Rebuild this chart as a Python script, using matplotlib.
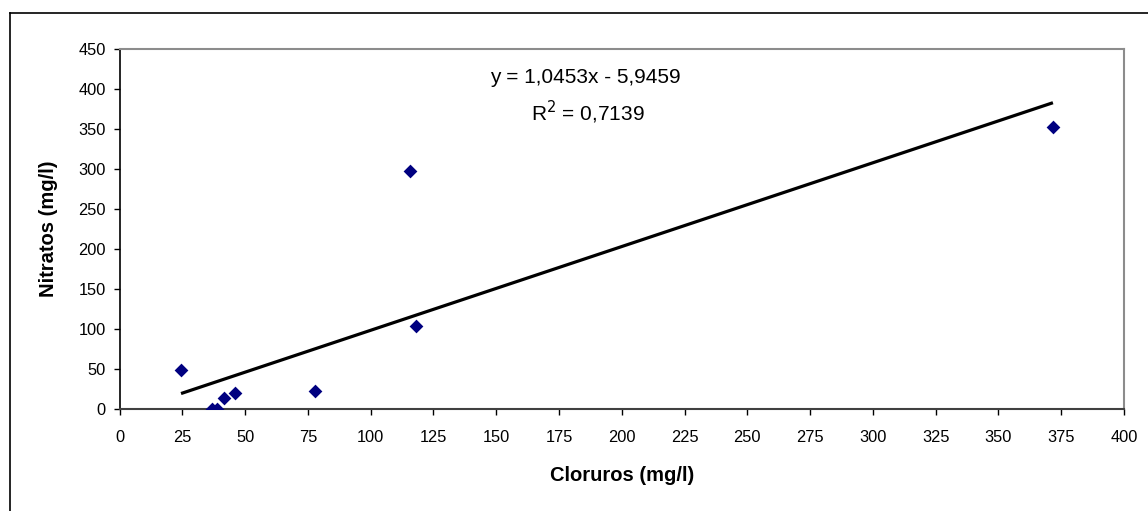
import matplotlib
matplotlib.use("Agg")
import matplotlib.pyplot as plt
from matplotlib.lines import Line2D

plt.rcParams['font.family'] = ['Liberation Sans', 'DejaVu Sans']

# Data
cloruros = [24.5, 36.7, 38.9, 41.7, 45.9, 77.8, 115.8, 118.0, 371.7]
nitratos = [49, 0, 0, 13.7, 20.7, 22.8, 297, 104.4, 352.8]
slope = 1.0453
intercept = -5.9459
eq_text = "y = 1,0453x - 5,9459"
r2_text = "R$^2$ = 0,7139"
x_ticks = list(range(0, 401, 25))
y_ticks = list(range(0, 451, 50))

W, H = 1148, 511
fig = plt.figure(figsize=(W / 100, H / 100), dpi=100)

# Outer chart frame (left and top visible)
fig.add_artist(Line2D([9.5 / W, 9.5 / W], [0, 1 - 13.3 / H], color='black', lw=1.2, transform=fig.transFigure))
fig.add_artist(Line2D([9.5 / W, 1], [1 - 13.3 / H, 1 - 13.3 / H], color='black', lw=1.2, transform=fig.transFigure))

left, right = 119.5 / W, 1124.0 / W
bottom, top = 1 - 409.3 / H, 1 - 48.7 / H
ax = fig.add_axes([left, bottom, right - left, top - bottom])

ax.scatter(cloruros, nitratos, marker='D', s=7.0 ** 2, color='#000080', zorder=3, linewidths=0)

xmin, xmax = min(cloruros), max(cloruros)
ax.plot([xmin, xmax], [slope * xmin + intercept, slope * xmax + intercept], color='black', lw=2.3, zorder=2, solid_capstyle='butt')

ax.set_xlim(0, 400)
ax.set_ylim(0, 450)
ax.set_xticks(x_ticks)
ax.set_yticks(y_ticks)
ax.tick_params(axis='both', direction='out', length=4, width=1, labelsize=11.8, colors='black')
ax.tick_params(axis='x', pad=11)
ax.tick_params(axis='y', pad=6)

for s in ['top', 'right']:
    ax.spines[s].set_color('#8c8c8c')
    ax.spines[s].set_linewidth(1.5)
ax.spines['left'].set_color('black')
ax.spines['bottom'].set_color('#404040')
ax.spines['left'].set_linewidth(1.2)
ax.spines['bottom'].set_linewidth(1.5)

ax.set_xlabel("Cloruros (mg/l)", fontsize=14.5, fontweight='bold', labelpad=15)
ax.set_ylabel("Nitratos (mg/l)", fontsize=14.5, fontweight='bold', labelpad=14.5)

ax.text(0.464, 0.919, eq_text, transform=ax.transAxes, ha='center', va='center', fontsize=15)
ax.text(0.466, 0.824, r2_text, transform=ax.transAxes, ha='center', va='center', fontsize=15)

fig.savefig("out.png", dpi=100)
